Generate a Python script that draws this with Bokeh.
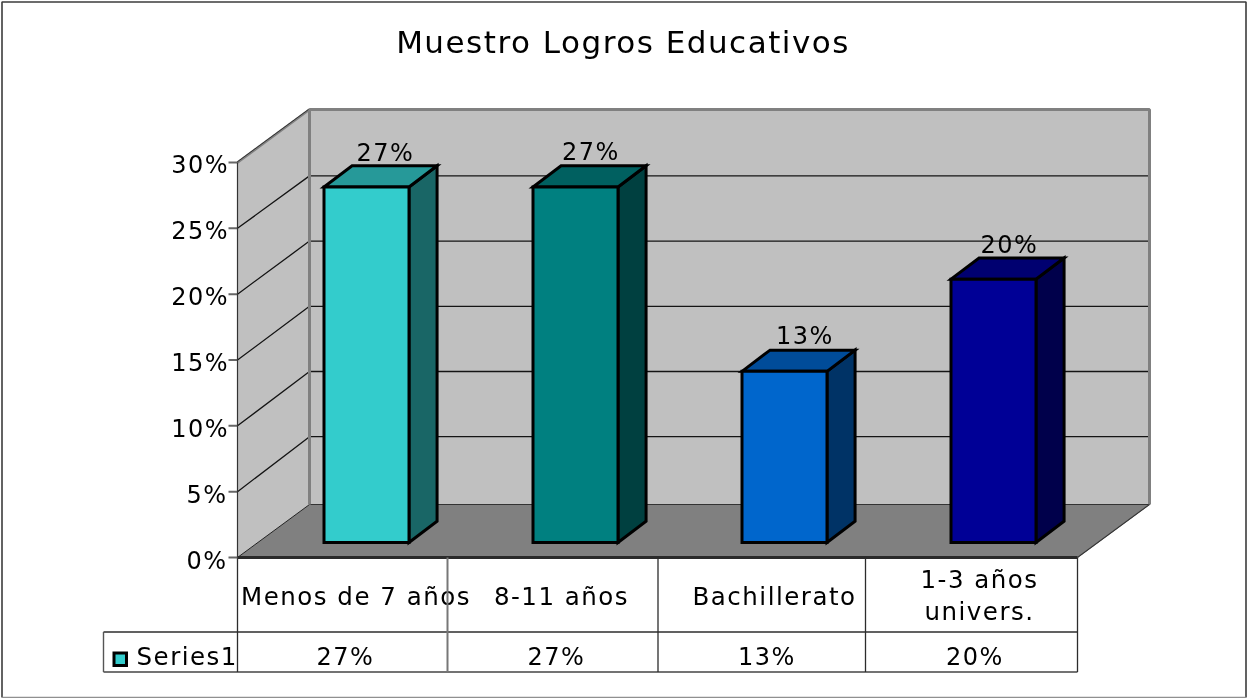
from bokeh.plotting import figure
from bokeh.models import Range1d, LinearAxis, FixedTicker, PrintfTickFormatter
from bokeh.core.properties import value
from bokeh.embed import file_html
from bokeh.resources import INLINE

TITLE = "Muestro Logros Educativos"
categories = ["Menos de 7 años", "8-11 años", "Bachillerato", "1-3 años\nunivers."]
series_name = "Series1"
series_values = [27, 27, 13, 20]
series_labels = ["27%", "27%", "13%", "20%"]
y_ticks = [0, 5, 10, 15, 20, 25, 30]
face_colors = ["#33CCCC", "#008080", "#0066CC", "#000096"]
top_colors = ["#269999", "#006060", "#004C99", "#000070"]
side_colors = ["#196666", "#004040", "#003366", "#00004B"]

# layout
W, H = 1247, 698
FONT = value("DejaVu Sans")
X0, XSTEP = 366.0, 209.0      # pixel of first bar's centre, pixels per category
Y0, YSTEP = 557.0, 13.167     # pixel of 0 %, pixels per percent
BACK_TOP, BACK_STEP = 110.2, 13.04  # pixel of 30 % on the back wall, pixels per percent there
TRACKING = 1.5                # letter spacing of all text, px


def xu(px):
    return (px - X0) / XSTEP


def yu(py):
    return (Y0 - py) / YSTEP


DEPTH_X, DEPTH_Y = 72 / XSTEP, 53 / YSTEP
BAR_HALF = 42.5 / XSTEP
BAR_DX, BAR_DY = 0.39 * DEPTH_X, 0.4 * DEPTH_Y
BAR_BASE = yu(542)
LEFT, RIGHT = xu(237), xu(1077)
COL_EDGES = [xu(237), xu(447), xu(657.5), xu(865), xu(1077)]
LABEL_CX = [385, 590.5, 804.5, 1009]
LABEL_GAP = [4.5, 5, 5, 4]
CAT_CX = [355.5, 561, 774, 979]
VAL_CX = [345, 556, 766.5, 974.5]
CAT_SIZE, VAL_SIZE, TITLE_SIZE, TICK_SIZE = 24.5, 24, 31, 24


def put(px, base_py, s, size, align="center"):
    """Draw text so that its visible centre is at px and its baseline at base_py."""
    shift = TRACKING * len(s) / 2 if align == "center" else 0
    y = yu(base_py - 0.36 * size)
    p.text([xu(px - shift)], [y], text=[s], text_font=FONT, text_font_size=f"{size}px",
           text_align=align, text_baseline="alphabetic", text_color="black")


p = figure(width=W, height=H, output_backend="svg", toolbar_location=None,
           x_range=Range1d(xu(0), xu(W)), y_range=Range1d(yu(H), yu(0)),
           min_border=0, min_border_left=0, min_border_right=0,
           min_border_top=0, min_border_bottom=0,
           x_axis_type=None, y_axis_type=None)
p.grid.visible = False
p.outline_line_color = None
p.background_fill_color = "white"
p.border_fill_color = "white"
p.styles = {"position": "fixed", "left": "0", "top": "0", "letter-spacing": f"{TRACKING}px"}

# chart border
p.line([xu(1.5), xu(1.5), xu(1245.5), xu(1245.5)], [yu(697), yu(1.5), yu(1.5), yu(697)],
       line_color="#3c3c3c", line_width=1.6)
p.line([xu(1.5), xu(1245.5)], [yu(697), yu(697)], line_color="#909090", line_width=1.5)

BX, BR = LEFT + DEPTH_X, RIGHT + DEPTH_X
TOPV = 30.0
# walls
p.patch([LEFT, BX, BX, LEFT], [0, DEPTH_Y, TOPV + DEPTH_Y, TOPV], fill_color="#C0C0C0", line_color=None)
p.patch([BX, BR, BR, BX], [DEPTH_Y, DEPTH_Y, TOPV + DEPTH_Y, TOPV + DEPTH_Y], fill_color="#C0C0C0", line_color=None)
# floor
p.patch([LEFT, RIGHT, BR, BX], [0, 0, DEPTH_Y, DEPTH_Y], fill_color="#808080", line_color=None)
# gridlines
for t in y_ticks[1:-1]:
    back = yu(BACK_TOP + (TOPV - t) * BACK_STEP)
    p.line([LEFT, BX, BR], [t, back, back], line_color="#141414", line_width=1.3)
p.line([BX, BR], [DEPTH_Y, DEPTH_Y], line_color="#333333", line_width=1.2)
p.line([LEFT, BX], [0, DEPTH_Y], line_color="#222222", line_width=1)
# wall frame
p.line([BX, BX, BR, BR], [DEPTH_Y, TOPV + DEPTH_Y, TOPV + DEPTH_Y, DEPTH_Y], line_color="#808080", line_width=3)
p.line([LEFT, BX], [TOPV, TOPV + DEPTH_Y], line_color="#808080", line_width=2.5)
p.line([LEFT - 1 / XSTEP, BX - 1 / XSTEP], [TOPV, TOPV + DEPTH_Y], line_color="#333333", line_width=1)
p.line([RIGHT, BR], [0, DEPTH_Y], line_color="#333333", line_width=1.2)
p.line([RIGHT + 1 / XSTEP, BR + 1 / XSTEP], [-1 / YSTEP, DEPTH_Y - 1 / YSTEP], line_color="white", line_width=1)

# bars
for i, v in enumerate(series_values):
    l, r = i - BAR_HALF, i + BAR_HALF
    b, t = BAR_BASE, BAR_BASE + v
    style = dict(line_color="black", line_width=3, line_join="miter")
    p.patch([r, r + BAR_DX, r + BAR_DX, r], [b, b + BAR_DY, t + BAR_DY, t], fill_color=side_colors[i], **style)
    p.patch([l, l + BAR_DX, r + BAR_DX, r], [t, t + BAR_DY, t + BAR_DY, t], fill_color=top_colors[i], **style)
    p.patch([l, r, r, l], [b, b, t, t], fill_color=face_colors[i], **style)
    top_py = Y0 - (t + BAR_DY) * YSTEP
    put(LABEL_CX[i], top_py - LABEL_GAP[i], series_labels[i], TICK_SIZE)

# table
TABLE_MID, TABLE_BOT, LEG = yu(631.5), yu(671.5), xu(103)
p.line([LEFT, RIGHT], [0, 0], line_color="#2a2a2a", line_width=3)
p.line([LEG, RIGHT], [TABLE_MID, TABLE_MID], line_color="#2c2c2c", line_width=1.3)
p.line([LEG, RIGHT], [TABLE_BOT, TABLE_BOT], line_color="#444444", line_width=1.4)
p.line([LEG, LEG], [TABLE_MID, TABLE_BOT], line_color="#555555", line_width=1.4)

for i, c in enumerate(categories):
    lines = c.split("\n")
    baselines = [605] if len(lines) == 1 else [588, 620]
    for line, base in zip(lines, baselines):
        put(CAT_CX[i], base, line, CAT_SIZE)
    put(VAL_CX[i], 665, series_labels[i], VAL_SIZE)

# cell lines over the text, as in the reference
for k, e in enumerate(COL_EDGES):
    grey = k == 1
    p.line([e, e], [0, TABLE_BOT], line_color="#777777" if grey else "#2c2c2c", line_width=2 if grey else 1.3)

# legend key + name
p.patch([xu(113.5), xu(126), xu(126), xu(113.5)], [yu(652.5), yu(652.5), yu(665), yu(665)],
        fill_color=face_colors[0], line_color="black", line_width=3, line_join="miter")
put(136, 665, series_name, CAT_SIZE, align="left")

# title
put(622.5, 52.5, TITLE, TITLE_SIZE)

# tick marks on the value axis
p.segment([xu(228)] * len(y_ticks), y_ticks, [LEFT] * len(y_ticks), y_ticks, line_color="#666666", line_width=2)
p.line([LEFT, LEFT], [0, TOPV], line_color="#333333", line_width=1.2)

# value axis labels, on a range shifted so the labels sit just below their ticks
LABEL_SHIFT = 3 / YSTEP
p.extra_y_ranges["tick_labels"] = Range1d(yu(H) + LABEL_SHIFT, yu(0) + LABEL_SHIFT)
axis = LinearAxis(fixed_location=LEFT, y_range_name="tick_labels", ticker=FixedTicker(ticks=y_ticks),
                  formatter=PrintfTickFormatter(format="%d%%"))
axis.axis_line_color = None
axis.major_tick_in = 0
axis.major_tick_out = 0
axis.minor_tick_line_color = None
axis.major_tick_line_color = None
axis.major_label_standoff = 13
axis.major_label_text_font = "DejaVu Sans"
axis.major_label_text_font_size = f"{TICK_SIZE}px"
axis.major_label_text_color = "black"
p.add_layout(axis, "left")

open("out.html", "w").write(file_html(p, INLINE))
